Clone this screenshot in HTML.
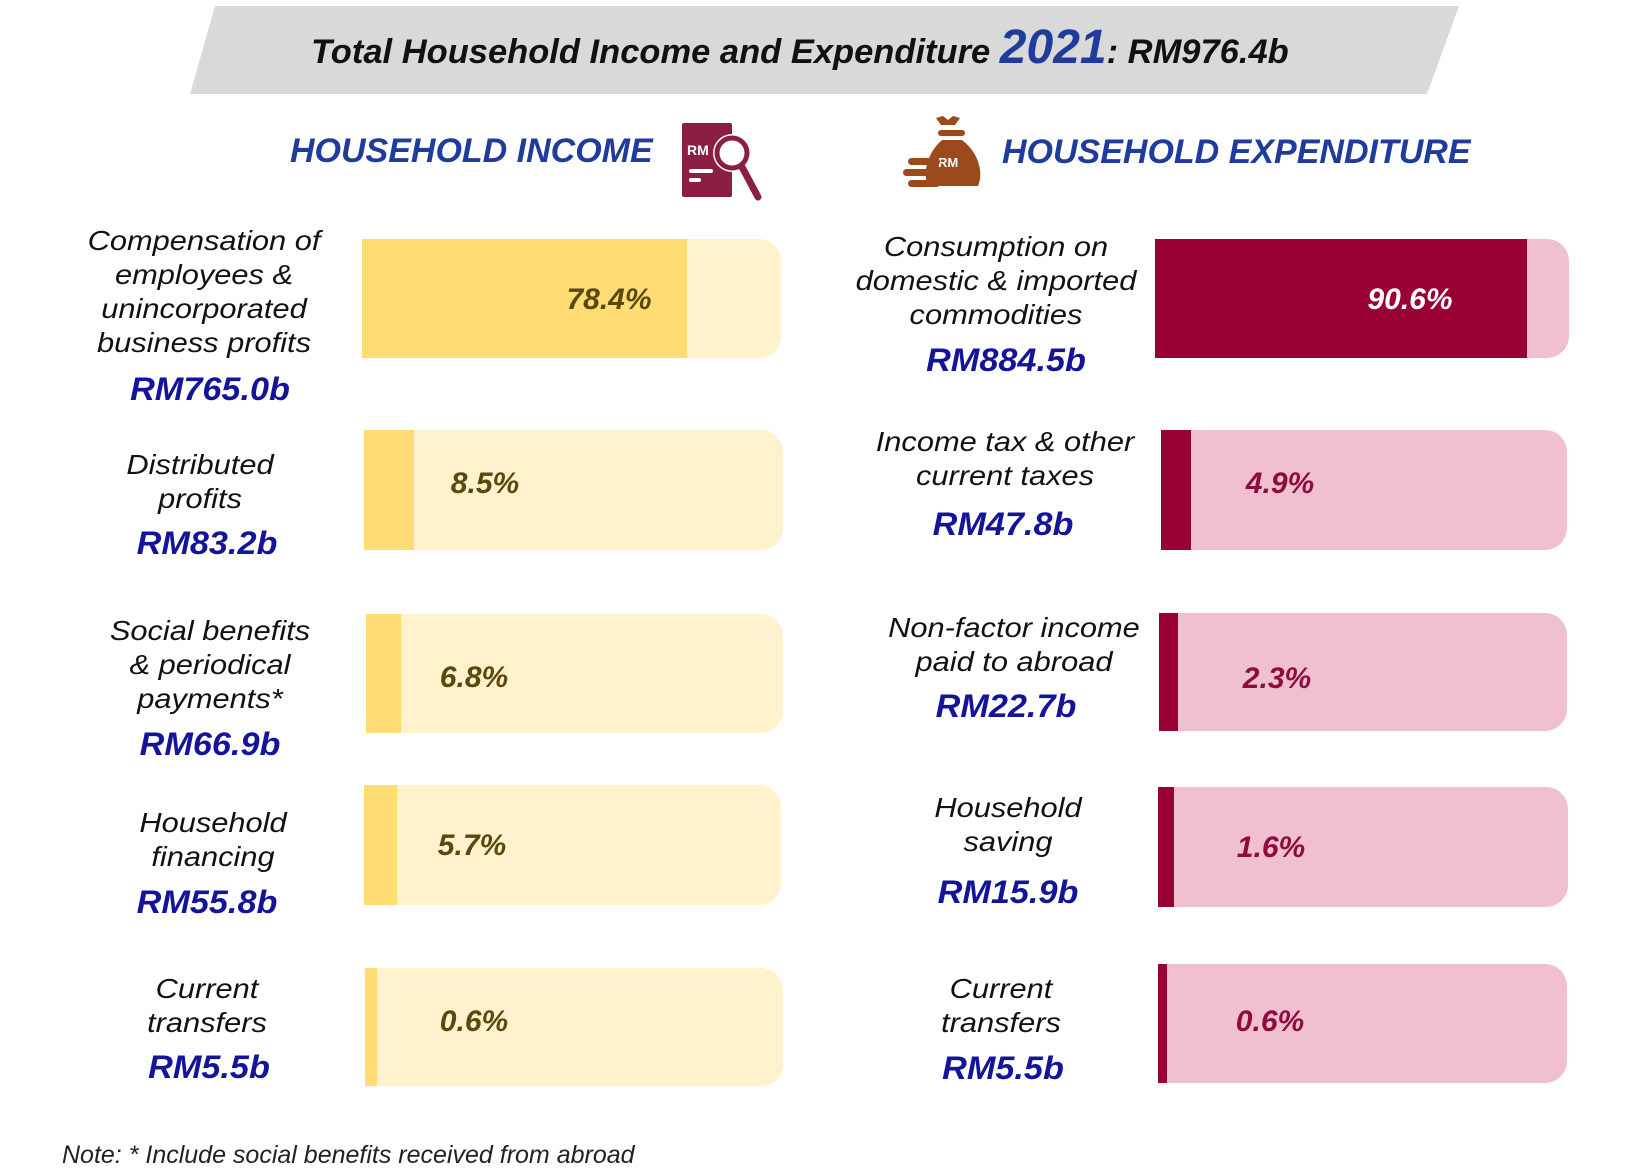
<!DOCTYPE html>
<html><head><meta charset="utf-8"><style>
body{margin:0;width:1634px;height:1171px;background:#fff;position:relative;overflow:hidden;font-family:"Liberation Sans",sans-serif;font-style:italic}
.a{position:absolute}
.lab{position:absolute;width:300px;text-align:center;font-size:28px;line-height:34px;color:#111;transform:scaleX(1.1)}
.rm{position:absolute;width:300px;text-align:center;font-size:32px;font-weight:bold;color:#14149a;transform:scaleX(1.07)}
.bar{position:absolute;border-radius:0 22px 22px 0}
.pct{position:absolute;font-size:30px;font-weight:bold;transform:translateX(-50%);white-space:nowrap}
.y{color:#5a4810}.m{color:#8e0c3c}
</style></head><body>
<svg class="a" style="left:0;top:0" width="1634" height="110"><polygon points="215,6 1459,6 1427,94 190,94" fill="#d9d9d9"/></svg>
<div class="a" style="left:311px;top:20px;font-size:34.5px;font-weight:bold;color:#111;white-space:nowrap">Total Household Income and Expenditure <span style="font-size:48px;color:#1f3c9c">2021</span>: RM976.4b</div>
<div class="a" style="left:290px;top:132px;font-size:34px;font-weight:bold;color:#1f3c9c;white-space:nowrap">HOUSEHOLD INCOME</div>
<div class="a" style="left:1002px;top:133px;font-size:34px;font-weight:bold;color:#1f3c9c;white-space:nowrap">HOUSEHOLD EXPENDITURE</div>
<svg class="a" style="left:680px;top:120px" width="90" height="85">
<rect x="2" y="3" width="50" height="74" rx="2" fill="#8b1e44"/>
<text x="7" y="35" font-size="14" font-family="Liberation Sans" font-weight="bold" fill="#fff" font-style="normal">RM</text>
<rect x="9" y="49" width="24" height="4" rx="2" fill="#fff"/><rect x="9" y="58" width="12" height="4" rx="2" fill="#fff"/>
<circle cx="52" cy="33" r="19" fill="#fff"/><circle cx="52" cy="33" r="15" fill="none" stroke="#8b1e44" stroke-width="5"/>
<line x1="62" y1="47" x2="78" y2="77" stroke="#8b1e44" stroke-width="7" stroke-linecap="round"/>
</svg>
<svg class="a" style="left:900px;top:112px" width="90" height="85">
<path d="M43 4 L48 8 L53 4 L60 6 L55 13 H41 L36 6Z" fill="#9a4a1c"/>
<rect x="38" y="18" width="27" height="6" rx="3" fill="#9a4a1c"/>
<path d="M42 28 H62 C78 40 84 60 78 74 H28 C22 60 28 40 42 28Z" fill="#9a4a1c"/>
<text x="38" y="55" font-size="13" font-family="Liberation Sans" font-weight="bold" fill="#fff" font-style="normal">RM</text>
<rect x="8" y="46" width="32" height="7" rx="3.5" fill="#9a4a1c"/>
<rect x="3" y="57" width="34" height="7" rx="3.5" fill="#9a4a1c"/>
<rect x="8" y="68" width="32" height="7" rx="3.5" fill="#9a4a1c"/>
</svg>

<!-- income bars -->
<div class="bar" style="left:362px;top:239px;width:419px;height:119px;background:#fff2cc"></div><div class="a" style="left:362px;top:239px;width:325px;height:119px;background:#ffdc74"></div>
<div class="bar" style="left:364px;top:430px;width:419px;height:120px;background:#fff2cc"></div><div class="a" style="left:364px;top:430px;width:50px;height:120px;background:#ffdc74"></div>
<div class="bar" style="left:366px;top:614px;width:417px;height:119px;background:#fff2cc"></div><div class="a" style="left:366px;top:614px;width:35px;height:119px;background:#ffdc74"></div>
<div class="bar" style="left:364px;top:785px;width:417px;height:120px;background:#fff2cc"></div><div class="a" style="left:364px;top:785px;width:33px;height:120px;background:#ffdc74"></div>
<div class="bar" style="left:365px;top:968px;width:418px;height:118px;background:#fff2cc"></div><div class="a" style="left:365px;top:968px;width:12px;height:118px;background:#ffdc74"></div>
<div class="pct y" style="left:609px;top:283px">78.4%</div>
<div class="pct y" style="left:485px;top:467px">8.5%</div>
<div class="pct y" style="left:474px;top:661px">6.8%</div>
<div class="pct y" style="left:472px;top:829px">5.7%</div>
<div class="pct y" style="left:474px;top:1005px">0.6%</div>

<!-- expenditure bars -->
<div class="bar" style="left:1155px;top:239px;width:414px;height:119px;background:#f0c0d0"></div><div class="a" style="left:1155px;top:239px;width:372px;height:119px;background:#990033"></div>
<div class="bar" style="left:1161px;top:430px;width:406px;height:120px;background:#f0c0d0"></div><div class="a" style="left:1161px;top:430px;width:30px;height:120px;background:#990033"></div>
<div class="bar" style="left:1159px;top:613px;width:408px;height:118px;background:#f0c0d0"></div><div class="a" style="left:1159px;top:613px;width:19px;height:118px;background:#990033"></div>
<div class="bar" style="left:1158px;top:787px;width:410px;height:120px;background:#f0c0d0"></div><div class="a" style="left:1158px;top:787px;width:16px;height:120px;background:#990033"></div>
<div class="bar" style="left:1158px;top:964px;width:409px;height:119px;background:#f0c0d0"></div><div class="a" style="left:1158px;top:964px;width:9px;height:119px;background:#990033"></div>
<div class="pct" style="left:1410px;top:283px;color:#fff">90.6%</div>
<div class="pct m" style="left:1280px;top:467px">4.9%</div>
<div class="pct m" style="left:1277px;top:662px">2.3%</div>
<div class="pct m" style="left:1271px;top:831px">1.6%</div>
<div class="pct m" style="left:1270px;top:1005px">0.6%</div>

<!-- income labels -->
<div class="lab" style="left:54px;top:224px">Compensation of<br>employees &amp;<br>unincorporated<br>business profits</div>
<div class="rm" style="left:60px;top:371px">RM765.0b</div>
<div class="lab" style="left:50px;top:448px">Distributed<br>profits</div>
<div class="rm" style="left:57px;top:525px">RM83.2b</div>
<div class="lab" style="left:60px;top:614px">Social benefits<br>&amp; periodical<br>payments*</div>
<div class="rm" style="left:60px;top:726px">RM66.9b</div>
<div class="lab" style="left:63px;top:806px">Household<br>financing</div>
<div class="rm" style="left:57px;top:884px">RM55.8b</div>
<div class="lab" style="left:57px;top:972px">Current<br>transfers</div>
<div class="rm" style="left:59px;top:1049px">RM5.5b</div>

<!-- expenditure labels -->
<div class="lab" style="left:846px;top:230px">Consumption on<br>domestic &amp; imported<br>commodities</div>
<div class="rm" style="left:856px;top:342px">RM884.5b</div>
<div class="lab" style="left:855px;top:425px">Income tax &amp; other<br>current taxes</div>
<div class="rm" style="left:853px;top:506px">RM47.8b</div>
<div class="lab" style="left:864px;top:611px">Non-factor income<br>paid to abroad</div>
<div class="rm" style="left:856px;top:688px">RM22.7b</div>
<div class="lab" style="left:858px;top:791px">Household<br>saving</div>
<div class="rm" style="left:858px;top:874px">RM15.9b</div>
<div class="lab" style="left:851px;top:972px">Current<br>transfers</div>
<div class="rm" style="left:853px;top:1050px">RM5.5b</div>

<div class="a" style="left:62px;top:1141px;font-size:25px;color:#222;white-space:nowrap">Note: * Include social benefits received from abroad</div>
</body></html>
